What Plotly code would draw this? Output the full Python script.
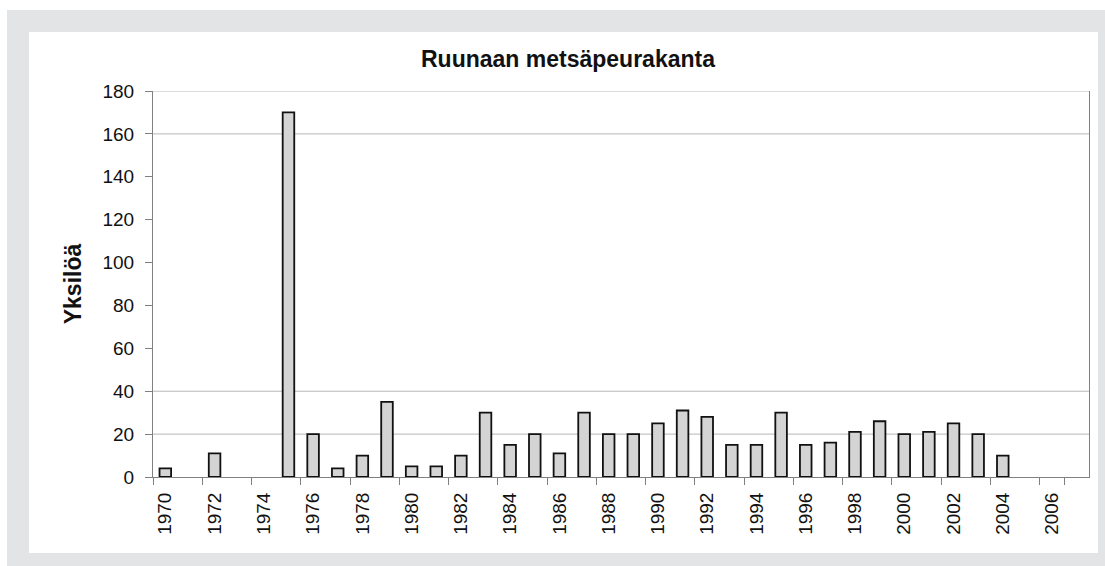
import plotly.graph_objects as go

# === Data ===
years = [str(y) for y in range(1970, 2008)]
counts = [4, None, 11, None, None, 170, 20, 4, 10, 35,
          5, 5, 10, 30, 15, 20, 11, 30, 20, 20,
          25, 31, 28, 15, 15, 30, 15, 16, 21, 26,
          20, 21, 25, 20, 10, None, None, None]
tick_years = [str(y) for y in range(1970, 2008, 2)]
y_ticks = list(range(0, 181, 20))
grid_at = [20, 40, 160, 180]

# === Geometry (pixels) ===
W, H = 1105, 566
PL, PR, PT, PB = 153, 1089, 91, 477


def px_x(px):
    return (px - PL) / (PR - PL)


def px_y(py):
    return (PB - py) / (PB - PT)


fig = go.Figure()
fig.add_bar(
    x=years, y=counts,
    marker=dict(color="#d4d4d4", line=dict(color="#111111", width=1.8)),
    showlegend=False,
)

shapes = [
    # light frame around the chart
    dict(type="rect", xref="paper", yref="paper", x0=px_x(-5), x1=px_x(W + 5),
         y0=px_y(10), y1=px_y(-5), fillcolor="white", line_width=0, layer="below"),
    dict(type="rect", xref="paper", yref="paper", x0=px_x(-5), x1=px_x(7),
         y0=px_y(H + 5), y1=px_y(-5), fillcolor="white", line_width=0, layer="below"),
    dict(type="rect", xref="paper", yref="paper", x0=px_x(29), x1=px_x(1098),
         y0=px_y(553), y1=px_y(32), fillcolor="white", line_width=0, layer="below"),
]
for g in grid_at:
    shapes.append(dict(type="line", xref="paper", yref="y", x0=0, x1=1, y0=g, y1=g,
                       line=dict(color="#b8b8b8", width=1), layer="below"))

fig.update_layout(
    width=W, height=H,
    margin=dict(l=PL, r=W - PR, t=PT, b=H - PB),
    paper_bgcolor="#e3e4e6",
    plot_bgcolor="white",
    font=dict(family="Liberation Sans, Arial, sans-serif", color="#111111"),
    bargap=0.53,
    shapes=shapes,
    annotations=[dict(
        text="<b>Ruunaan metsäpeurakanta</b>", xref="paper", yref="paper",
        x=px_x(568), y=px_y(59), xanchor="center", yanchor="middle",
        showarrow=False, font=dict(size=23, color="#111111"),
    )],
)
fig.update_xaxes(
    type="category", tickmode="array", tickvals=tick_years, ticktext=tick_years,
    tickangle=-90, tickson="boundaries", ticks="outside", ticklen=7,
    tickcolor="#808080", showline=True, linecolor="#808080", linewidth=1,
    showgrid=False, tickfont=dict(size=19), ticklabelstandoff=7,
    range=[-0.5, len(years) - 0.5],
)
fig.update_yaxes(
    range=[0, 180], tickvals=y_ticks, ticks="outside", ticklen=7,
    tickcolor="#808080", showline=True, linecolor="#808080", linewidth=1,
    mirror=True, showgrid=False, zeroline=False, tickfont=dict(size=19),
    ticklabelstandoff=7,
    title=dict(text="<b>Yksilöä</b>", font=dict(size=23), standoff=14),
)

fig.write_html("out.html", config={"displayModeBar": False},
               post_script="document.body.style.margin='0';")
